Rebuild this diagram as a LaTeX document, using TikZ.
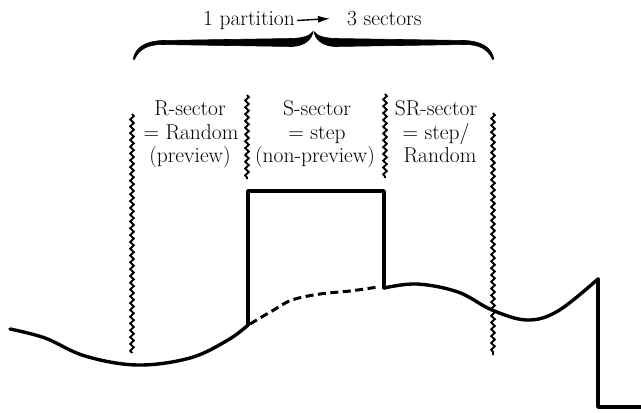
\documentclass[tikz,border=0pt]{standalone}
\usetikzlibrary{decorations.pathmorphing,arrows.meta}
\begin{document}
\begin{tikzpicture}[x=1pt,y=-1pt,
  lbl/.style={inner sep=0pt,anchor=base,font=\fontsize{21.5}{25}\selectfont},
  wavy/.style={line width=1.9pt,decorate,decoration={snake,segment length=6.8pt,amplitude=1.8pt}},
  prof/.style={line width=3.4pt,line join=round,line cap=round},
  dashprof/.style={line width=3pt,dash pattern=on 8pt off 4.5pt},
  bracefill/.style={fill=black,draw=black,line width=0.6pt,line join=round}]
\useasboundingbox[fill=white] (0,0) rectangle (641,413);

% title
\node[lbl,anchor=base west] (t1) at (203,25) {1 partition};
\node[lbl,anchor=base west] (t2) at (347,25) {3 sectors};
\draw[line width=1.4pt,-{Latex[length=12pt,width=7pt]}] ([xshift=2pt,yshift=-0.5pt]t1.east) -- ([xshift=-17pt,yshift=-0.5pt]t2.west);

% brace (two mirrored halves)
\newcommand\halfbrace{%
  (133,59) .. controls (136,47) and (145,41.5) .. (162,40.5)
  -- (292,38.5) .. controls (303,38) and (310,36) .. (313,31.5)
  .. controls (312,39) and (305,46) .. (292,46.5)
  -- (162,44.5) .. controls (148,44.5) and (139,49) .. (134.5,59.5) -- cycle}
\fill[bracefill] \halfbrace;
\begin{scope}[shift={(627,0)},xscale=-1]
\fill[bracefill] \halfbrace;
\end{scope}

% sector labels
\node[lbl] (r1) at (190,115) {R-sector};
\node[lbl] (r2) at (191,139) {= Random};
\node[lbl] (r3) at (190,162) {(preview)};
\node[lbl] (s1) at (317,115) {S-sector};
\node[lbl] (s2) at (317,139) {= step};
\node[lbl] (s3) at (315,162) {(non-preview)};
\node[lbl] (q1) at (436,115) {SR-sector};
\node[lbl] (q2) at (436,139) {= step/};
\node[lbl] (q3) at (440,162) {Random};

% wavy separators
\coordinate (w1a) at (132,114); \coordinate (w1b) at (132,353);
\coordinate (w2a) at (247,95);  \coordinate (w2b) at (247,179);
\coordinate (w3a) at (385,94);  \coordinate (w3b) at (385,178);
\coordinate (w4a) at (493,113); \coordinate (w4b) at (493,355);
\draw[wavy] (w1a) -- (w1b);
\draw[wavy] (w2a) -- (w2b);
\draw[wavy] (w3a) -- (w3b);
\draw[wavy] (w4a) -- (w4b);

% profile
\coordinate (bxl) at (248,325);
\coordinate (bxr) at (384,288);
\coordinate (pk) at (598,279);
\coordinate (ft) at (598,407);
\coordinate (pe) at (641,407);
\draw[prof] plot[smooth,tension=0.6] coordinates {(10,329) (45,338) (85,356) (137,365) (190,358) (228,340) (248,325)};
\draw[dashprof] plot[smooth,tension=0.6] coordinates {(250,324) (272,311) (292,300) (320,294) (350,291) (378,287)};
\draw[prof] (bxl) -- (248,191) -- (384,191) -- (bxr);
\draw[prof] plot[smooth,tension=0.6] coordinates {(384,288) (417,284) (458,292) (492,310) (527,320) (558,311) (598,279)};
\draw[prof] (pk) -- (ft) -- (pe);
\end{tikzpicture}
\end{document}
